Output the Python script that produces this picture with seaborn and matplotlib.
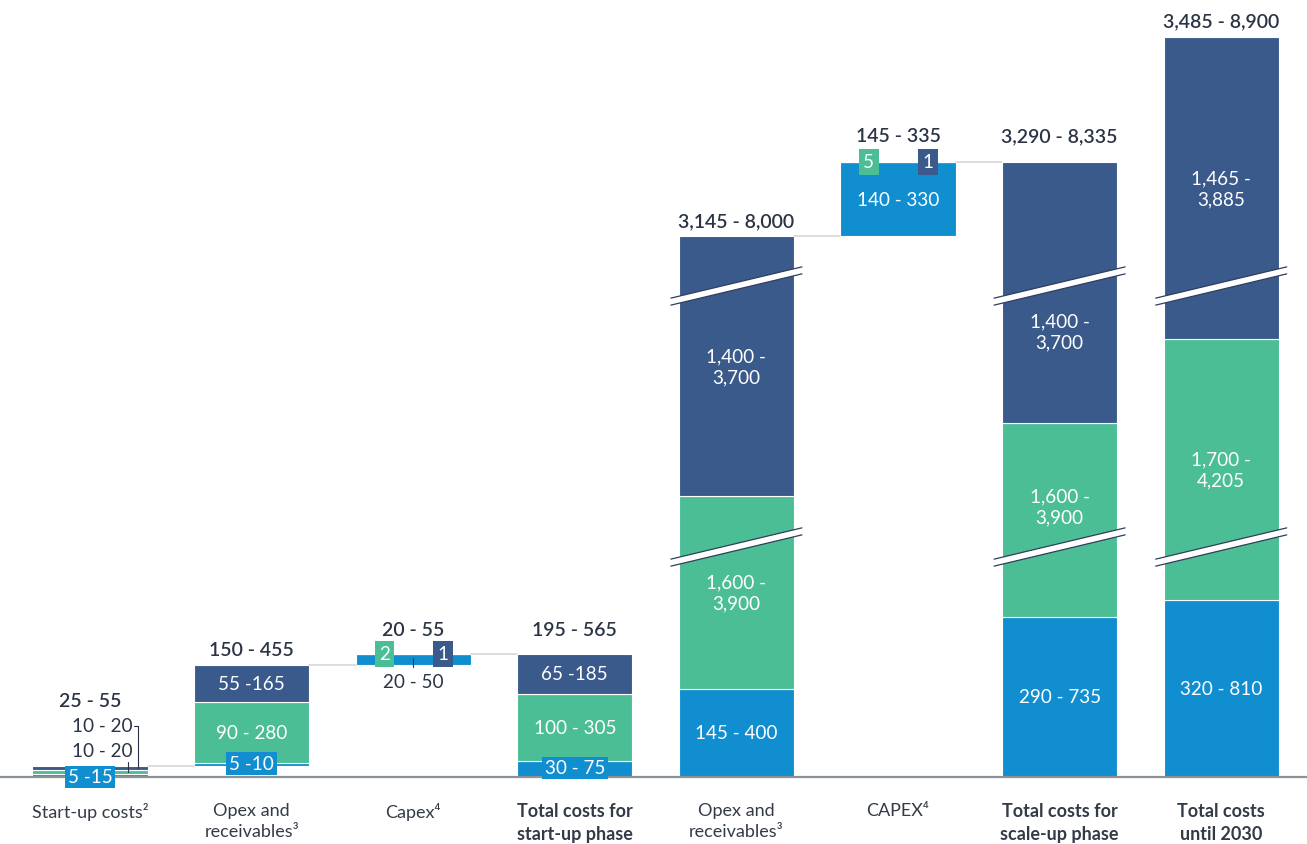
import matplotlib
matplotlib.use("Agg")
import matplotlib.pyplot as plt
import seaborn as sns
import numpy as np
from matplotlib.patches import Polygon

# ---------------- data (drawn heights; the axis is broken) ----
categories = ["Start-up costs²", "Opex and\nreceivables³", "Capex⁴",
              "Total costs for\nstart-up phase", "Opex and\nreceivables³", "CAPEX⁴",
              "Total costs for\nscale-up phase", "Total costs\nuntil 2030"]
bold_flags = [False, False, False, True, False, False, True, True]
floating = [False, True, True, False, False, True, False, False]
blue_heights = [3, 3, 11, 16, 88, 74, 160, 177]
green_heights = [4, 61, 0, 67, 193, 0, 194, 261]
navy_heights = [4, 37, 0, 40, 260, 0, 261, 302]
blue_labels = ["5 -15", "5 -10", "20 - 50", "30 - 75", "145 - 400", "140 - 330", "290 - 735", "320 - 810"]
green_labels = ["10 - 20", "90 - 280", "2", "100 - 305", "1,600 -\n3,900", "5", "1,600 -\n3,900", "1,700 -\n4,205"]
navy_labels = ["10 - 20", "55 -165", "1", "65 -185", "1,400 -\n3,700", "1", "1,400 -\n3,700", "1,465 -\n3,885"]
total_labels = ["25 - 55", "150 - 455", "20 - 55", "195 - 565", "3,145 - 8,000", "145 - 335",
                "3,290 - 8,335", "3,485 - 8,900"]
broken = [False, False, False, False, True, False, True, True]

# ---------------- style ----------------
NAVY = "#3A5A8C"
GREEN = "#4CBE95"
BLUE = "#118ED0"
TXT = "#2B3445"
AXIS = "#8C9299"
FAM = ["Lato", "DejaVu Sans"]

sns.set_theme(style="white")
plt.rcParams["font.family"] = FAM

fig = plt.figure(figsize=(13.07, 8.45), dpi=100)
ax = fig.add_axes([0, 67 / 845, 1, 778 / 845])
PXX = 161.6  # pixels per category step
ax.set_xlim(-90 / PXX, (1307 - 90) / PXX)
ax.set_ylim(0, 778)

x = np.arange(len(categories))
W = 0.712

# waterfall bases
bases = []
prev_top = 0
for i in range(len(categories)):
    base = prev_top if floating[i] else 0
    bases.append(base)
    prev_top = base + blue_heights[i] + green_heights[i] + navy_heights[i]
bases = np.array(bases, dtype=float)
b = np.array(blue_heights, float)
g = np.array(green_heights, float)
n = np.array(navy_heights, float)
tops = bases + b + g + n

ax.bar(x, b, bottom=bases, width=W, color=BLUE, edgecolor="white", linewidth=0.8)
ax.bar(x, g, bottom=bases + b, width=W, color=GREEN, edgecolor="white", linewidth=0.8)
ax.bar(x, n, bottom=bases + b + g, width=W, color=NAVY, edgecolor="white", linewidth=0.8)

# connectors
for i, j in [(0, 1), (1, 2), (2, 3), (4, 5), (5, 6)]:
    ax.plot([x[i] + W / 2, x[j] - W / 2], [tops[i], tops[i]], color="#D3D3D3", lw=1.1, zorder=1)

# breaks
def draw_break(xc, yc):
    half = W / 2 + 8 / PXX
    s = 31 / 130 * (2 * half * PXX) / 2
    h = 3.5
    xl, xr = xc - half, xc + half
    poly = Polygon([(xl, yc - h - s), (xr, yc - h + s), (xr, yc + h + s), (xl, yc + h - s)],
                   closed=True, fc="white", ec="none", zorder=4)
    ax.add_patch(poly)
    for sign in (-1, 1):
        ax.plot([xl, xr], [yc + sign * h - s, yc + sign * h + s], color="#2E3E5C", lw=0.9, zorder=5)

for i in range(len(categories)):
    if broken[i]:
        draw_break(x[i], 491)
        draw_break(x[i], 230)

LBL = 13.6
# in-bar labels
for i in range(len(categories)):
    if i in (0, 2):
        continue
    if i != 5:
        gy = bases[i] + b[i] + g[i] / 2
        ny = bases[i] + b[i] + g[i] + n[i] / 2
        if i == 6:
            gy += 14
            ny -= 39
        ax.text(x[i], ny, navy_labels[i], ha="center", va="center", color="white",
                fontsize=LBL, linespacing=1.3, zorder=6)
        ax.text(x[i], gy, green_labels[i], ha="center", va="center", color="white",
                fontsize=LBL, linespacing=1.3, zorder=6)
    if i in (1, 3):
        ax.text(x[i], bases[i] + b[i] / 2 + 1, blue_labels[i],
                ha="center", va="center", color="white", fontsize=LBL, zorder=6,
                bbox=dict(boxstyle="square,pad=0.15", fc=BLUE, ec="none"))
    else:
        ax.text(x[i], bases[i] + b[i] / 2, blue_labels[i], ha="center", va="center",
                color="white", fontsize=LBL, zorder=6)

# start-up costs (tiny stack)
ax.text(x[0], 0, blue_labels[0], ha="center", va="center", color="white", fontsize=LBL, zorder=6,
        bbox=dict(boxstyle="square,pad=0.15", fc=BLUE, ec="none"))
ax.text(x[0] + 43 / PXX, 26, green_labels[0], ha="right", va="center", color=TXT, fontsize=LBL)
ax.text(x[0] + 43 / PXX, 51, navy_labels[0], ha="right", va="center", color=TXT, fontsize=LBL)
ax.plot([x[0] + 48 / PXX, x[0] + 48 / PXX], [tops[0] - 2, 51], color=TXT, lw=0.8)
ax.plot([x[0] + 44 / PXX, x[0] + 48 / PXX], [51, 51], color=TXT, lw=0.8)
ax.plot([x[0] + 38 / PXX, x[0] + 38 / PXX], [5, 15], color=TXT, lw=0.8)

# small boxes on capex bars
for i in (2, 5):
    ax.text(x[i] - 0.18, tops[i], green_labels[i], ha="center", va="center", color="white",
            fontsize=LBL, zorder=6, bbox=dict(boxstyle="square,pad=0.22", fc=GREEN, ec="none"))
    ax.text(x[i] + 0.185, tops[i], navy_labels[i], ha="center", va="center", color="white",
            fontsize=LBL, zorder=6, bbox=dict(boxstyle="square,pad=0.22", fc=NAVY, ec="none"))
ax.text(x[2], bases[2] - 17, blue_labels[2], ha="center", va="center", color=TXT, fontsize=LBL)
ax.plot([x[2], x[2]], [bases[2] - 2, bases[2] + 7], color=TXT, lw=0.8)

# totals
tot_off = [65, 15, 25, 25, 15, 26, 26, 16]
for i in range(len(categories)):
    ax.text(x[i], tops[i] + tot_off[i], total_labels[i], ha="center", va="center", color=TXT,
            fontsize=14, fontweight="semibold")

# axes
ax.set_xticks(x)
ax.set_xticklabels(categories, fontsize=13, color="#333B47", linespacing=1.42)
for lab, bf in zip(ax.get_xticklabels(), bold_flags):
    if bf:
        lab.set_fontweight("bold")
ax.tick_params(axis="x", length=0, pad=18)
ax.set_yticks([])
for sp in ("top", "left", "right"):
    ax.spines[sp].set_visible(False)
ax.spines["bottom"].set_color(AXIS)
ax.spines["bottom"].set_linewidth(1.6)
ax.spines["bottom"].set_zorder(3)

fig.savefig("out.png", dpi=100)
